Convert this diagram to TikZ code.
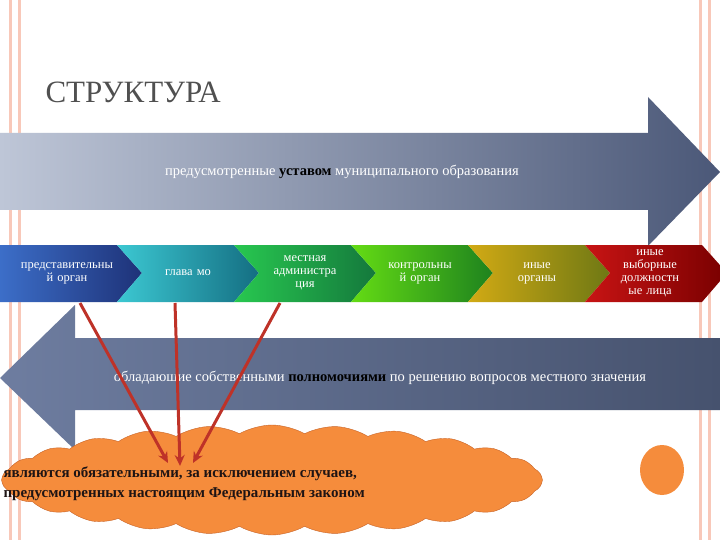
\documentclass[tikz,border=0pt]{standalone}
\usepackage{fontspec}
\setmainfont{Liberation Serif}
\usetikzlibrary{shapes.symbols,shapes.geometric,arrows.meta}
\definecolor{pinkb}{RGB}{248,200,185}
\definecolor{titlec}{RGB}{80,80,80}
\definecolor{barL}{RGB}{110,125,160}
\definecolor{barR}{RGB}{70,82,110}
\definecolor{topL}{RGB}{190,198,215}
\definecolor{topR}{RGB}{75,88,120}
\definecolor{c0a}{RGB}{60,110,200}\definecolor{c0b}{RGB}{30,50,120}
\definecolor{c1a}{RGB}{60,200,210}\definecolor{c1b}{RGB}{20,110,130}
\definecolor{c2a}{RGB}{40,200,80}\definecolor{c2b}{RGB}{20,120,60}
\definecolor{c3a}{RGB}{100,220,20}\definecolor{c3b}{RGB}{30,130,30}
\definecolor{c4a}{RGB}{210,170,20}\definecolor{c4b}{RGB}{110,120,20}
\definecolor{c5a}{RGB}{200,20,20}\definecolor{c5b}{RGB}{120,0,0}
\definecolor{orangec}{RGB}{245,140,60}
\definecolor{orangeb}{RGB}{200,100,40}
\definecolor{redar}{RGB}{190,50,40}
\definecolor{cloudtxt}{RGB}{30,20,20}
\begin{document}
\begin{tikzpicture}[x=1pt,y=-1pt,
  ctext/.style={text=white,font=\fontsize{12.5}{13}\selectfont,align=center,text width=110pt},
  redarrow/.style={draw=redar,line width=3pt,-{Stealth[length=11pt,width=10pt]}}]
\useasboundingbox (0,0) rectangle (720,540);
\fill[white] (0,0) rectangle (720,540);
\fill[pinkb] (9,0) rectangle (21,540);
\fill[pinkb] (699,0) rectangle (711,540);
\fill[white] (12,0) rectangle (18,540);
\fill[white] (702,0) rectangle (708,540);
\node[anchor=west,text=titlec,font=\fontsize{31}{33}\selectfont] (title) at (42,92) {СТРУКТУРА};
% bottom arrow (left pointing)
\shade[left color=barL,right color=barR]
  (0,378) -- (75,305) -- (75,338) -- (720,338) -- (720,410) -- (75,410) -- (75,450) -- cycle;
\node[text=white,font=\fontsize{14.5}{15}\selectfont] (bottomtext) at (380,378) {обладающие собственными \textcolor{black}{\textbf{полномочиями}} по решению вопросов местного значения};
% top arrow
\shade[left color=topL,right color=topR]
  (0,133) -- (648,133) -- (648,97) -- (720,172) -- (648,246) -- (648,210) -- (0,210) -- cycle;
\node[text=white,font=\fontsize{14.5}{15}\selectfont] (toptext) at (342,172) {предусмотренные \textcolor{black}{\textbf{уставом}} муниципального образования};
% chevrons
\shade[left color=c0a,right color=c0b]
  (0,245) -- (117,245) -- (142,273) -- (117,302) -- (0,302) -- cycle;
\foreach \i in {1,...,5}{
  \shade[left color=c\i a,right color=c\i b]
   ({117*\i},245) -- ({117*\i+117},245) -- ({117*\i+142},273) -- ({117*\i+117},302) -- ({117*\i},302) -- ({117*\i+25},273) -- cycle;
}
\node[ctext] (c1) at (67,273) {представительны\\й орган};
\node[ctext] (c2) at (188,273) {глава мо};
\node[ctext] (c3) at (305,273) {местная\\администра\\ция};
\node[ctext] (c4) at (420,273) {контрольны\\й орган};
\node[ctext] (c5) at (537,273) {иные\\органы};
\node[ctext] (c6) at (650,273) {иные\\выборные\\должностн\\ые лица};
% cloud
\node[cloud,cloud puffs=26,cloud puff arc=60,aspect=5,fill=orangec,draw=orangeb,minimum width=540pt,minimum height=110pt,inner sep=0pt] (cloud) at (272,480) {};
\node[anchor=west,align=left,font=\bfseries\fontsize{15}{20}\selectfont,text=cloudtxt] (cloudtext) at (0,484) {являются обязательными, за исключением случаев,\\предусмотренных настоящим Федеральным законом};
\node[ellipse,fill=orangec,minimum width=44pt,minimum height=50pt,inner sep=0pt] (dot) at (662,470) {};
% red arrows
\coordinate (s1) at (80,303);
\coordinate (s2) at (175,303);
\coordinate (s3) at (280,303);
\coordinate (e1) at (168,463);
\coordinate (e2) at (180,466);
\coordinate (e3) at (193,463);
\draw[redarrow] (s1) -- (e1);
\draw[redarrow] (s2) -- (e2);
\draw[redarrow] (s3) -- (e3);
\end{tikzpicture}
\end{document}
